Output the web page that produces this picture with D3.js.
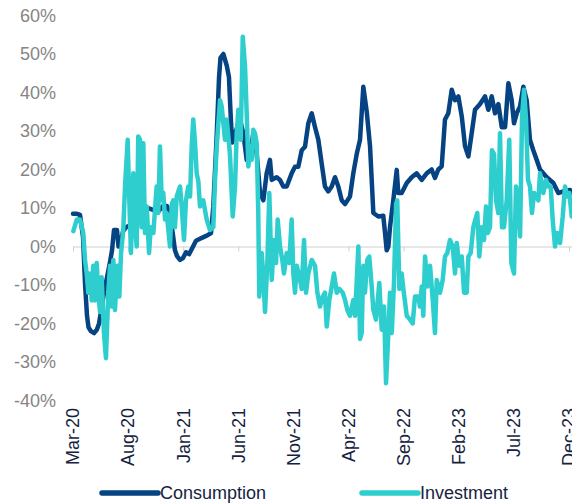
<!DOCTYPE html>
<html>
<head>
<meta charset="utf-8">
<script src="https://cdn.jsdelivr.net/npm/d3@7"></script>
<style>
  body { margin: 0; background: #fff; }
  text { font-family: "Liberation Sans", Arial, sans-serif; }
</style>
</head>
<body>
<div id="chart"></div>
<script>
var svgWidth = 572;
var svgHeight = 504;

// months since Mar-20, value in %
var consumption = [
  [0, 8.5], [0.36, 8.5], [0.64, 8.2], [0.91, 2.5], [1.09, -9.5], [1.27, -18], [1.41, -21],
  [1.63, -22], [1.91, -22.5], [2.18, -21.5], [2.36, -20], [2.54, -17], [2.81, -12], [3.09, -8],
  [3.36, -4], [3.54, -1], [3.72, 4.3], [3.99, 4.3], [4.13, 0], [4.36, 1.5], [4.54, 4], [4.81, 5],
  [5.17, 5.5], [5.53, 5], [5.81, 6], [6.08, 7.8], [6.44, 9.5], [6.8, 10], [7.26, 9.5], [7.71, 9],
  [8.17, 10.5], [8.53, 10.5], [8.8, 8], [9.07, 3], [9.25, -1], [9.44, -2.5], [9.71, -3.5],
  [9.98, -3], [10.25, -1.5], [10.53, -2], [10.8, -0.5], [11.16, 1.5], [11.52, 2], [11.89, 2.5],
  [12.25, 3], [12.52, 3.5], [12.73, 10.4], [13.04, 29], [13.25, 44], [13.38, 49], [13.64, 50],
  [13.95, 47], [14.15, 44], [14.29, 35], [14.43, 27], [14.7, 29.4], [15.15, 33], [15.45, 29.4],
  [15.76, 22.5], [16.06, 24], [16.36, 29.4], [16.67, 24], [16.97, 13.9], [17.27, 12], [17.57, 19],
  [17.87, 22.5], [18.03, 17.3], [18.48, 18], [18.78, 17.3], [19.08, 15.6], [19.39, 15.6],
  [19.84, 19], [20.14, 20.7], [20.44, 20.7], [20.75, 25], [21.05, 25.9], [21.35, 32], [21.66, 34.6],
  [21.96, 31], [22.26, 27.7], [22.56, 21.6], [22.86, 15.6], [23.16, 14.3], [23.47, 15.6], [23.77, 18],
  [24.07, 15.6], [24.38, 12], [24.68, 11], [25.13, 13], [25.43, 19], [25.74, 24], [26.04, 27.7],
  [26.34, 41.5], [26.65, 35], [26.95, 26], [27.25, 8.7], [27.7, 7.8], [28.15, 8], [28.31, 3.5],
  [28.46, -1], [28.61, 0], [28.76, 5], [29.06, 12], [29.37, 19.9], [29.51, 13.9], [29.82, 13.9],
  [30.28, 16.5], [30.73, 18], [31.18, 19], [31.64, 17.3], [32.09, 19], [32.54, 20], [32.84, 17.8],
  [33.14, 20], [33.45, 20.8], [33.75, 33], [34.05, 34.6], [34.36, 40.7], [34.66, 38], [34.96, 39],
  [35.27, 33.8], [35.57, 26], [35.87, 23.4], [36.17, 29.4], [36.47, 35.5], [36.93, 37], [37.38, 39],
  [37.68, 35.5], [37.99, 39], [38.29, 34.6], [38.59, 37], [38.9, 31], [39.2, 31], [39.5, 42.4],
  [39.8, 38], [40.01, 32], [40.26, 34.6], [40.56, 36.4], [40.86, 41.5], [41.16, 38], [41.46, 27.7],
  [41.76, 25], [42.07, 22.5], [42.37, 20], [42.98, 18], [43.58, 16.5], [44.03, 13.9], [44.49, 14.3],
  [45.09, 14.7], [45.27, 14]
];

var investment = [
  [0.03, 4], [0.34, 7], [0.64, 7], [0.93, 3.5], [1.09, -3.5], [1.24, -7], [1.39, -12], [1.54, -7],
  [1.7, -14], [1.84, -5], [2, -14], [2.15, -4.3], [2.3, -12], [2.45, -17], [2.6, -8], [2.81, -22.5],
  [2.99, -29], [3.2, -12], [3.36, -5], [3.51, -15.6], [3.66, -3.5], [3.81, -16.5], [4.02, -5],
  [4.2, -13], [4.36, -1.7], [4.56, 4.3], [4.72, 15.6], [4.96, 27.7], [5.11, 12], [5.26, -1.7],
  [5.47, 19], [5.63, 5], [5.78, 0], [5.92, 28.6], [6.08, 27.7], [6.23, 5], [6.38, 26.8], [6.53, 3.5],
  [6.69, 10.4], [6.9, -1.7], [7.05, 5], [7.29, 3.5], [7.59, 15.6], [7.74, 8.7], [7.89, 26],
  [8.05, 12], [8.19, 14], [8.35, 7], [8.5, 8.7], [8.8, 0], [8.96, 11], [9.1, 12], [9.25, 5],
  [9.41, 13], [9.71, 15.6], [9.86, 10.4], [10.07, 1.7], [10.25, 12], [10.46, 15.6], [10.62, 13],
  [10.77, 26], [10.91, 33], [11.07, 27], [11.22, 19], [11.37, 17], [11.52, 10.4], [11.82, 12],
  [12.13, 7], [12.43, 4.3], [12.73, 5], [12.88, 17], [13.04, 26], [13.34, 38], [13.49, 36.4],
  [13.79, 27.7], [13.95, 33], [14.24, 24], [14.49, 7.8], [14.7, 15.6], [14.85, 29.4], [15, 35.5],
  [15.22, 27.7], [15.4, 54.5], [15.61, 46.7], [15.76, 34.6], [15.91, 20.8], [16.06, 26],
  [16.21, 22.5], [16.36, 30.3], [16.51, 29.4], [16.67, 26.8], [16.81, 8.7], [16.9, -13],
  [17.12, -1.7], [17.27, -7.8], [17.42, -17], [17.63, -4.3], [17.81, 13.9], [18.03, -8.7],
  [18.24, 1.7], [18.42, -4.3], [18.57, 7], [18.78, 0], [18.99, -3.5], [19.14, -7], [19.39, -1.7],
  [19.62, -4.3], [19.84, 7], [19.99, -7], [20.14, -12], [20.3, -5], [20.6, -8.7], [20.75, -11],
  [20.96, 1.7], [21.14, -12], [21.35, -7], [21.66, -3.5], [21.96, -5], [22.17, -12], [22.41, -15.6],
  [22.66, -13], [22.86, -12], [23.02, -20.8], [23.25, -14], [23.47, -10.4], [23.68, -7], [23.93, -12],
  [24.16, -11], [24.47, -12], [24.68, -13.9], [24.89, -16.5], [25.13, -18], [25.43, -13.9],
  [25.59, -18], [25.89, 0], [26.04, -24], [26.19, -22.5], [26.34, -5], [26.49, -12], [26.7, -3.5],
  [26.88, -2.6], [27.1, -10.4], [27.25, -16.5], [27.49, -19], [27.79, -9.5], [28.01, -21.6],
  [28.22, -15.6], [28.4, -35.5], [28.61, -22.5], [28.76, -12], [28.92, -22.5], [29.12, -9.5],
  [29.31, 11], [29.42, 12], [29.61, -11], [29.82, -7], [29.97, -11], [30.28, -18], [30.58, -19],
  [30.82, -20], [31.03, -13], [31.33, -13], [31.48, -15.6], [31.64, -10.4], [31.78, -18],
  [31.94, -2.6], [32.15, -10.4], [32.39, -5], [32.64, -13.9], [32.84, -22.5], [33, -8.7],
  [33.3, -12], [33.54, -8.7], [33.75, -2.6], [33.96, -1.7], [34.2, 1.7], [34.45, 0], [34.66, -7],
  [34.81, 0.9], [35.05, -5], [35.27, -2.6], [35.48, -12], [35.72, -12], [35.87, -2.6], [36.08, -1.7],
  [36.32, 5], [36.5, 7], [36.68, 8.7], [36.86, -2.6], [37.08, 5], [37.29, 1.7], [37.47, 10.4],
  [37.63, 3.5], [37.83, 5], [38.01, 25], [38.2, 24], [38.38, 12], [38.59, 8.7], [38.74, 29.4],
  [38.92, 5], [39.1, 5], [39.35, 12], [39.58, 27.7], [39.77, -4.3], [40.01, -7], [40.19, 15.6],
  [40.37, 12], [40.56, 2.6], [40.74, 33.8], [40.92, 40.7], [41.1, 33], [41.28, 17.3], [41.46, 15.6],
  [41.64, 8.7], [41.83, 13.9], [42.22, 12], [42.37, 19], [42.67, 13.9], [42.92, 17.3], [43.12, 15.6],
  [43.34, 15.6], [43.52, 7], [43.73, 0], [43.94, 3.5], [44.19, 0.9], [44.43, 7.8], [44.64, 15.6],
  [44.85, 13], [45.03, 13.9], [45.25, 7.8]
];

var xTickMonths = [0, 5, 10, 15, 20, 25, 30, 35, 40, 45];
var xTickLabels = ["Mar-20", "Aug-20", "Jan-21", "Jun-21", "Nov-21", "Apr-22", "Sep-22", "Feb-23", "Jul-23", "Dec-23"];
var yTicks = [-40, -30, -20, -10, 0, 10, 20, 30, 40, 50, 60];

var seriesNames = ["Consumption", "Investment"];
var seriesColors = ["#054382", "#2ecece"];

var svg = d3.select("#chart")
  .append("svg")
  .attr("width", svgWidth)
  .attr("height", svgHeight);

var xScale = d3.scaleLinear().domain([0, 45]).range([73, 569]);
var yScale = d3.scaleLinear().domain([-40, 60]).range([400.5, 15.5]);

// y labels
var yAxis = d3.axisLeft(yScale)
  .tickValues(yTicks)
  .tickSize(0)
  .tickPadding(0)
  .tickFormat(d => d + "%");

svg.append("g")
  .attr("transform", "translate(56,0)")
  .call(yAxis)
  .call(g => g.select(".domain").remove())
  .selectAll("text")
  .attr("fill", "#858585")
  .attr("font-size", "18px")
  .attr("font-family", "Liberation Sans, Arial, sans-serif");

// zero line with ticks
var xAxis = d3.axisBottom(xScale)
  .tickValues(xTickMonths)
  .tickSize(5)
  .tickFormat("");

svg.append("g")
  .attr("transform", `translate(0, ${yScale(0)})`)
  .call(xAxis)
  .call(g => g.select(".domain").attr("d", `M73,0.5H572`).attr("stroke", "#d0d0d0"))
  .call(g => g.selectAll(".tick line").attr("stroke", "#d0d0d0"));

// x labels
svg.append("g").selectAll("text")
  .data(xTickMonths)
  .enter()
  .append("text")
  .attr("transform", d => `translate(${xScale(d)}, 408) rotate(-90)`)
  .attr("dy", "0.35em")
  .attr("text-anchor", "end")
  .attr("font-size", "18px")
  .attr("fill", "#15233f")
  .text((d, i) => xTickLabels[i]);

var line = d3.line()
  .x(d => xScale(d[0]))
  .y(d => yScale(d[1]));

var chartGroup = svg.append("g");

[consumption, investment].forEach(function(data, i) {
  chartGroup.append("path")
    .datum(data)
    .attr("d", line)
    .attr("fill", "none")
    .attr("stroke", seriesColors[i])
    .attr("stroke-width", 4.5)
    .attr("stroke-linejoin", "round")
    .attr("stroke-linecap", "round");
});

// legend
var legendX = [102, 362];
var legend = svg.append("g");
seriesNames.forEach(function(name, i) {
  legend.append("line")
    .attr("x1", legendX[i])
    .attr("x2", legendX[i] + 56)
    .attr("y1", 493)
    .attr("y2", 493)
    .attr("stroke", seriesColors[i])
    .attr("stroke-width", 5.5)
    .attr("stroke-linecap", "round");
  legend.append("text")
    .attr("x", legendX[i] + 58)
    .attr("y", 493)
    .attr("dy", "0.35em")
    .attr("font-size", "18px")
    .attr("fill", "#15233f")
    .text(name);
});
</script>
</body>
</html>
